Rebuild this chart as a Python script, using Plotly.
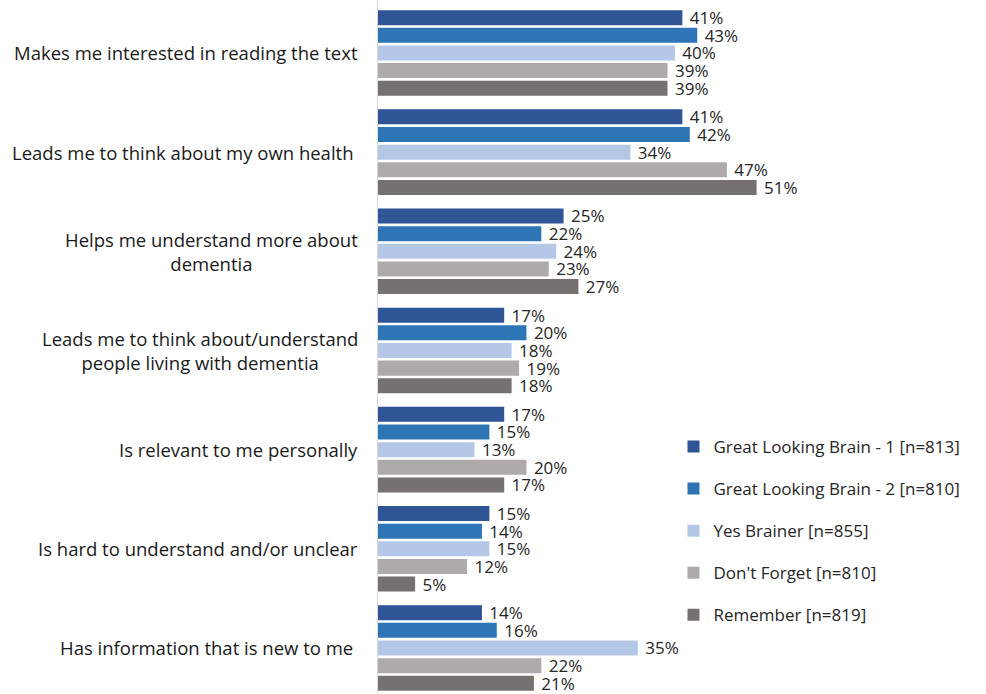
import plotly.graph_objects as go

categories = [
    "Makes me interested in reading the text",
    "Leads me to think about my own health\u00a0",
    "Helps me understand more about<br>dementia",
    "Leads me to think about/understand<br>people living with dementia",
    "Is relevant to me personally",
    "Is hard to understand and/or unclear",
    "Has information that is new to me\u00a0",
]

series_names = [
    "Great Looking Brain - 1 [n=813]",
    "Great Looking Brain - 2 [n=810]",
    "Yes Brainer [n=855]",
    "Don't Forget [n=810]",
    "Remember [n=819]",
]

glb1 = [41, 41, 25, 17, 17, 15, 14]
glb2 = [43, 42, 22, 20, 15, 14, 16]
yes_brainer = [40, 34, 24, 18, 13, 15, 35]
dont_forget = [39, 47, 23, 19, 20, 12, 22]
remember = [39, 51, 27, 18, 17, 5, 21]

series_values = [glb1, glb2, yes_brainer, dont_forget, remember]
colors = ["#2F5597", "#2E75B6", "#B4C7E7", "#AEAAAA", "#767171"]

FONT = "Open Sans"
cat_idx = list(range(len(categories)))

fig = go.Figure()
for i, (name, vals, col) in enumerate(zip(series_names, series_values, colors)):
    fig.add_trace(go.Bar(
        name=name,
        y=cat_idx,
        x=vals,
        orientation="h",
        marker=dict(color=col, line=dict(width=0)),
        text=[f"\u00a0{v}%" for v in vals],
        textposition="outside",
        textangle=0,
        textfont=dict(family=FONT, size=17, color="#262626"),
        cliponaxis=False,
        legendgroup=f"g{i}",
    ))

# category labels, centred line by line like wrapped axis labels
for i, cat in enumerate(categories):
    fig.add_annotation(
        x=0, xref="paper", y=i, yref="y",
        text=cat, showarrow=False,
        xanchor="right", yanchor="middle", align="center",
        xshift=-18,
        font=dict(family=FONT, size=18.5, color="#1a1a1a"),
    )

fig.update_layout(
    width=986, height=694,
    margin=dict(l=378, r=0, t=0, b=0),
    paper_bgcolor="white", plot_bgcolor="white",
    barmode="group", bargap=0.11, bargroupgap=0.15,
    showlegend=True,
    legend=dict(
        x=0.486, xanchor="left", y=0.382, yanchor="top",
        font=dict(family=FONT, size=17, color="#262626"),
        tracegroupgap=17, itemwidth=30,
        bgcolor="rgba(0,0,0,0)",
    ),
    xaxis=dict(range=[0, 81.9], visible=False, fixedrange=True),
    yaxis=dict(
        range=[6.464, -0.534], showticklabels=False, ticks="",
        showgrid=False, zeroline=False,
        showline=True, linecolor="#D9D9D9", linewidth=1,
    ),
)
fig.update_traces(constraintext="none")

fig.write_html("out.html")
